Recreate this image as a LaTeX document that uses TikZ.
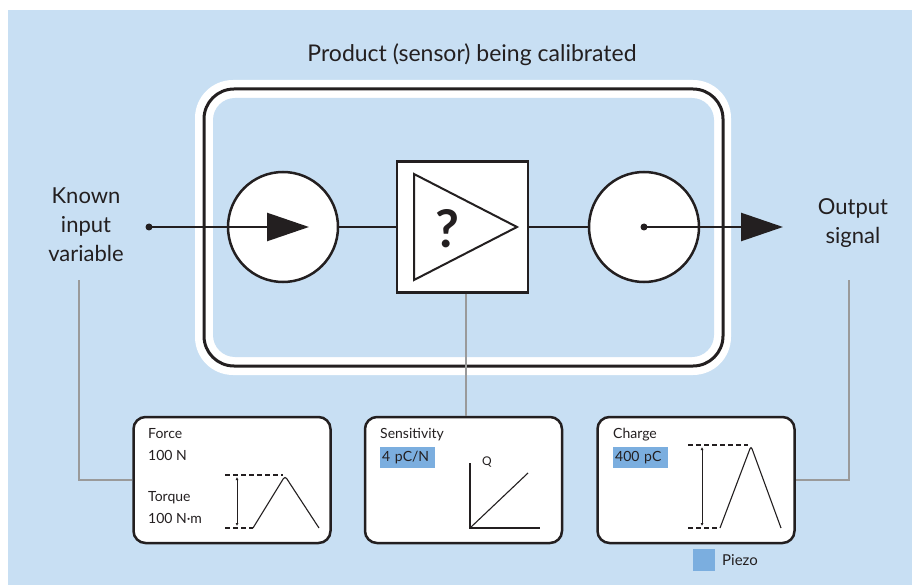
\documentclass[tikz,border=0pt]{standalone}
\usepackage{fontspec}
\setmainfont{Lato}
\usetikzlibrary{arrows.meta,positioning,calc}
\definecolor{Ink}{HTML}{231F20}
\definecolor{Sky}{HTML}{C8DFF3}
\definecolor{Mark}{HTML}{7BAEDF}
\definecolor{Lead}{HTML}{9A9A9A}

\begin{document}
\begin{tikzpicture}[x=1pt,y=-1pt,
  wire/.style={Ink,line width=2.5pt},
  lead/.style={Lead,line width=2pt},
  disc/.style={circle,draw=Ink,fill=white,line width=2.5pt,minimum size=110pt,inner sep=0pt},
  dotnode/.style={circle,fill=Ink,inner sep=0pt,minimum size=7pt},
  panel/.style={draw=Ink,fill=white,line width=2.5pt,rounded corners=12pt,minimum width=197pt,minimum height=126pt},
  small/.style={font=\fontsize{14}{16}\selectfont,text=Ink,anchor=base west,inner sep=0pt},
  hilite/.style={fill=Mark,font=\fontsize{14}{16}\selectfont,text=Ink,anchor=north west,inner xsep=2pt,inner ysep=0pt,text width=51pt,minimum height=21pt},
  big/.style={font=\fontsize{22}{29}\selectfont,text=Ink,align=center},
  dashline/.style={Ink,line width=1.1pt,dash pattern=on 5pt off 3pt},
  span/.style={Ink,line width=0.8pt,{Latex[length=3pt,width=3pt]}-{Latex[length=3pt,width=3pt]}},
  plot/.style={Ink,line width=1.1pt}]
\useasboundingbox (0,0) rectangle (912,585);
\fill[white] (0,0) rectangle (912,585);
\fill[Sky] (8,10) rectangle (912,585);
% sensor frame
\node[font=\fontsize{23}{27}\selectfont,text=Ink] (title) at (472,55) {Product (sensor) being calibrated};
\fill[white,rounded corners=38pt] (195,80) rectangle (731,375);
\draw[Ink,line width=3pt,rounded corners=30pt] (204,89) rectangle (723,366);
\fill[Sky,rounded corners=22pt] (213,98) rectangle (714,357);
% chain
\node[disc] (src) at (283,227) {};
\node[draw=Ink,fill=white,line width=2.5pt,minimum size=131pt,inner sep=0pt] (amp) at (462.5,227) {};
\node[disc] (out) at (644,227) {};
\draw[Ink,line width=2pt] (414,174) -- (517,227) -- (414,280) -- cycle;
\node[font=\fontsize{52}{52}\selectfont\bfseries,text=Ink] (qmark) at (447,229) {?};
\draw[wire] (src) -- (amp);
\draw[wire] (amp) -- (out);
\node[dotnode] (inpt) at (149,227) {};
\coordinate (intip) at (309,227);
\draw[wire,-{Triangle[length=42pt,width=28pt]}] (inpt.center) -- (intip);
\node[dotnode] (outpt) at (out.center) {};
\coordinate (outtip) at (783,227);
\draw[wire,-{Triangle[length=42pt,width=28pt]}] (outpt.center) -- (outtip);
\node[big] (inlbl) at (86,225) {Known\\input\\variable};
\node[big] (outlbl) at (853,223) {Output\\signal};
% panels
\foreach \n/\x in {forcebox/232,sensbox/463.5,chargebox/696} {\node[panel] (\n) at (\x,480) {};}
\coordinate (inleg) at (79,280);
\coordinate (outleg) at (849,280);
\draw[lead] (inleg) |- (forcebox.west);
\draw[lead] (outleg) |- (chargebox.east);
\draw[lead] ([xshift=3pt]amp.south) -- ([xshift=3pt]amp.south |- sensbox.north);
% force / torque
\node[small] (forcetxt) at (148,438) {Force};
\node[small] (forceval) at (148,460) {100 N};
\node[small] (torquetxt) at (148,501) {Torque};
\node[small] (torqueval) at (148,523) {100 N·m};
\draw[dashline] (225,475) -- (283,475);
\draw[dashline] (225,528) -- (253,528);
\draw[span] (237,477) -- (237,526);
\draw[plot,rounded corners=3pt] (253,528) -- (285,476) -- (319,528);
% sensitivity
\node[small] (senstxt) at (380,438) {Sensitivity};
\node[hilite] (sensval) at (380,447) {4 pC/N};
\node[font=\fontsize{12}{14}\selectfont,text=Ink,anchor=base west,inner sep=0pt] (qlbl) at (482,465) {Q};
\coordinate (origin) at (470,528);
\draw[plot] (470,463) -- (origin) -- (540,528);
\draw[plot] (origin) -- (528,473);
% charge
\node[small] (chargetxt) at (613,438) {Charge};
\node[hilite] (chargeval) at (613,447) {400 pC};
\draw[dashline] (688,445) -- (748,445);
\draw[dashline] (688,528) -- (718,528);
\draw[span] (702,447) -- (702,526);
\draw[plot,rounded corners=3pt] (720,528) -- (751,446) -- (781,528);
% legend
\node[fill=Mark,minimum size=22pt,inner sep=0pt] (key) at (704,560) {};
\node[small,anchor=west,font=\fontsize{15}{17}\selectfont] (keylbl) at (722,560) {Piezo};
\end{tikzpicture}
\end{document}
